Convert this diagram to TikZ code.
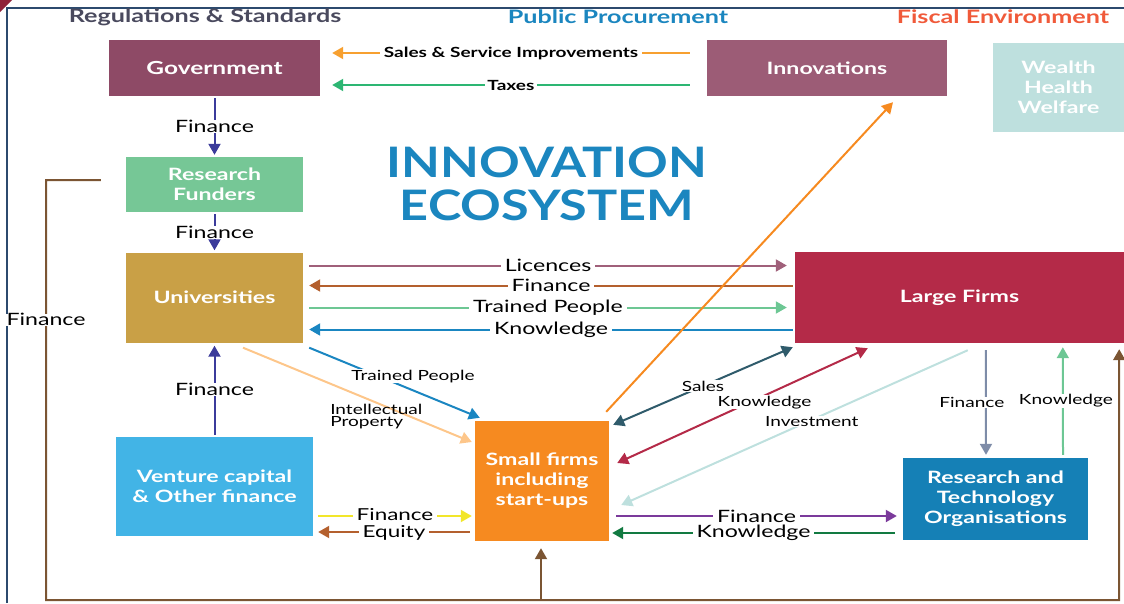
\documentclass[tikz,border=0pt]{standalone}
\usepackage{fontspec}
\setmainfont{Lato}[FakeStretch=1.36]
\newfontfamily\titlefont{Lato}[FakeStretch=1.2]
\usetikzlibrary{arrows.meta}

\definecolor{govcol}{HTML}{8E4A66}
\definecolor{innovcol}{HTML}{9C5C76}
\definecolor{wealthcol}{HTML}{BEE0DE}
\definecolor{rfcol}{HTML}{76C796}
\definecolor{unicol}{HTML}{C9A046}
\definecolor{largecol}{HTML}{B42A48}
\definecolor{vccol}{HTML}{42B4E6}
\definecolor{smallcol}{HTML}{F68A20}
\definecolor{rtocol}{HTML}{1580B6}
\definecolor{regcol}{HTML}{4A4A5E}
\definecolor{pubcol}{HTML}{1B86BF}
\definecolor{fiscol}{HTML}{F05A3A}
\definecolor{framecol}{HTML}{2C4A6E}
\definecolor{loopcol}{HTML}{7B5533}
\definecolor{salescol}{HTML}{F7A030}
\definecolor{taxcol}{HTML}{2DB673}
\definecolor{fincol}{HTML}{3B3B9B}
\definecolor{liccol}{HTML}{A0607A}
\definecolor{brncol}{HTML}{B4602E}
\definecolor{trcol}{HTML}{6DC794}
\definecolor{knowcol}{HTML}{1A86C1}
\definecolor{ipcol}{HTML}{FDC68A}
\definecolor{vcfcol}{HTML}{F2E62A}
\definecolor{slatecol}{HTML}{2F5B6B}
\definecolor{purpcol}{HTML}{7B3A9B}
\definecolor{dgreencol}{HTML}{127A41}
\definecolor{greycol}{HTML}{7E8CA8}

\tikzstyle{box}=[rectangle, inner sep=0pt, text=white, align=center, font=\bfseries\fontsize{17}{20}\selectfont]
\tikzstyle{header}=[font=\bfseries\fontsize{18.5}{22}\selectfont]
\tikzstyle{lbl}=[fill=white, inner xsep=4pt, inner ysep=0pt, text=black, font=\fontsize{17}{18}\selectfont]
\tikzstyle{lbl_small}=[fill=white, inner xsep=2pt, inner ysep=0.5pt, text=black, font=\fontsize{14}{15}\selectfont]
\tikzstyle{arr}=[-{Triangle[length=11pt,width=12pt]}, line width=2pt]
\tikzstyle{dbl_arr}=[{Triangle[length=11pt,width=12pt]}-{Triangle[length=11pt,width=12pt]}, line width=2pt]

\begin{document}
\begin{tikzpicture}[x=1pt, y=-1pt]
    \useasboundingbox (0,0) rectangle (1124,603);
    \fill [color=largecol!80!black] (0,0) -- (12,0) -- (0,12) -- cycle;
    \draw (7,603) -- (7,8) -- (1124,8) [line width=1.5pt, color=framecol];

    \node (reg) at (205,17) [header, text=regcol] {Regulations \& Standards};
    \node (pub) at (618,17) [header, text=pubcol] {Public Procurement};
    \node (fis) at (1003,17) [header, text=fiscol] {Fiscal Environment};

    \node (title) at (547,184) [text=pubcol, align=center, font=\titlefont\bfseries\fontsize{42}{43}\selectfont] {INNOVATION\\ECOSYSTEM};

    \node (gov) at (214.5,68) [box, fill=govcol, minimum width=211pt, minimum height=56pt, font=\bfseries\fontsize{18}{20}\selectfont] {Government};
    \node (innov) at (827,68) [box, fill=innovcol, minimum width=240pt, minimum height=56pt] {Innovations};
    \node (wealth) at (1058.5,87.5) [box, fill=wealthcol, minimum width=131pt, minimum height=89pt] {Wealth\\Health\\Welfare};
    \node (rf) at (214.5,184.5) [box, fill=rfcol, minimum width=177pt, minimum height=55pt] {Research\\Funders};
    \node (uni) at (214.5,297.5) [box, fill=unicol, minimum width=177pt, minimum height=90pt] {Universities};
    \node (large) at (959.5,297.5) [box, fill=largecol, minimum width=329pt, minimum height=91pt] {Large Firms};
    \node (vc) at (214.5,486.5) [box, fill=vccol, minimum width=197pt, minimum height=99pt] {Venture capital\\\& Other finance};
    \node (small) at (542,481) [box, fill=smallcol, minimum width=134pt, minimum height=120pt] {Small firms\\including\\start-ups};
    \node (rto) at (995.5,499) [box, fill=rtocol, minimum width=185pt, minimum height=82pt] {Research and\\Technology\\Organisations};

    \draw ([shift={(-17,-15)}]innov.west) -- node [lbl_small, inner xsep=4pt, font=\bfseries\fontsize{14}{15}\selectfont] {Sales \& Service Improvements} ([shift={(12,-15)}]gov.east) [arr, color=salescol];
    \draw ([shift={(-17,17)}]innov.west) -- node [lbl_small, font=\bfseries\fontsize{14}{15}\selectfont] {Taxes} ([shift={(12,17)}]gov.east) [arr, color=taxcol];

    \draw (gov.south) -- node [lbl] {Finance} (rf.north) [arr, color=fincol, shorten <=2pt, shorten >=2pt];
    \draw (rf.south) -- node [lbl] {Finance} (uni.north) [arr, color=fincol, shorten <=2pt, shorten >=2pt];
    \draw (vc.north) -- node [lbl] {Finance} (uni.south) [arr, color=fincol, shorten <=2pt, shorten >=3pt];

    \draw ([shift={(6,-32)}]uni.east) -- node [lbl] {Licences} ([shift={(-8,-32)}]large.west) [arr, color=liccol];
    \draw ([shift={(-2,-12)}]large.west) -- node [lbl] {Finance} ([shift={(6,-12)}]uni.east) [arr, color=brncol];
    \draw ([shift={(6,10)}]uni.east) -- node [lbl] {Trained People} ([shift={(-8,10)}]large.west) [arr, color=trcol];
    \draw ([shift={(-2,32)}]large.west) -- node [lbl] {Knowledge} ([shift={(6,32)}]uni.east) [arr, color=knowcol];

    \draw ([shift={(6,5)}]uni.south east) -- node [lbl_small, pos=0.55, yshift=10pt, xshift=10pt] {Trained People} ([shift={(5,-3)}]small.north west) [arr, color=knowcol];
    \draw ([shift={(28.5,5)}]uni.south) -- node [pos=0.6, yshift=-12pt, xshift=-4pt, align=left, inner sep=1pt, font=\fontsize{14}{12}\selectfont] {Intellectual\\Property} ([shift={(-3,-39)}]small.west) [arr, color=ipcol];

    \draw ([shift={(5,29.5)}]vc.east) -- node [lbl, yshift=1pt, font=\fontsize{16.5}{17}\selectfont] {Finance} ([shift={(-3,35)}]small.west) [arr, color=vcfcol];
    \draw ([shift={(-5,51)}]small.west) -- node [lbl, yshift=-1pt, font=\fontsize{16.5}{17}\selectfont] {Equity} ([shift={(5,45.5)}]vc.east) [arr, color=brncol];

    \draw ([shift={(-3,-9)}]small.north east) -- ([shift={(66,6)}]innov.south) [arr, color=smallcol];

    \draw ([shift={(4,4)}]small.north east) -- node [lbl_small] {Sales} ([shift={(-2,4)}]large.south west) [dbl_arr, color=slatecol];
    \draw ([shift={(8,-18)}]small.east) -- node [lbl_small, pos=0.58, yshift=-6pt, xshift=2pt] {Knowledge} ([shift={(73,5)}]large.south west) [dbl_arr, color=largecol];
    \draw ([shift={(173,7)}]large.south west) -- node [lbl_small, pos=0.45, yshift=-2pt] {Investment} ([shift={(12,24)}]small.east) [arr, color=wealthcol];

    \draw ([shift={(7,35)}]small.east) -- node [lbl] {Finance} ([shift={(-6,17)}]rto.west) [arr, color=purpcol];
    \draw ([shift={(-8,34)}]rto.west) -- node [lbl] {Knowledge} ([shift={(3,52)}]small.east) [arr, color=dgreencol];

    \draw ([shift={(191,7)}]large.south west) -- node [lbl_small, xshift=-14pt] {Finance} ([shift={(-9.5,-3)}]rto.north) [arr, color=greycol];
    \draw ([shift={(67.5,-3)}]rto.north) -- node [lbl_small, xshift=3pt] {Knowledge} ([shift={(268,4)}]large.south west) [arr, color=trcol];

    \coordinate (c1) at (46,180);
    \coordinate (c2) at (46,600);
    \coordinate (c3) at (1119,600);
    \coordinate (c4) at (541,600);
    \draw ([shift={(-25,-4.5)}]rf.west) -- (c1) -- node [lbl, pos=0.333] {Finance} (c2) -- (c3) -- ([shift={(-5,6)}]large.south east) [arr, color=loopcol];
    \draw (c4) -- ([shift={(-1,7)}]small.south) [arr, color=loopcol];
\end{tikzpicture}
\end{document}
